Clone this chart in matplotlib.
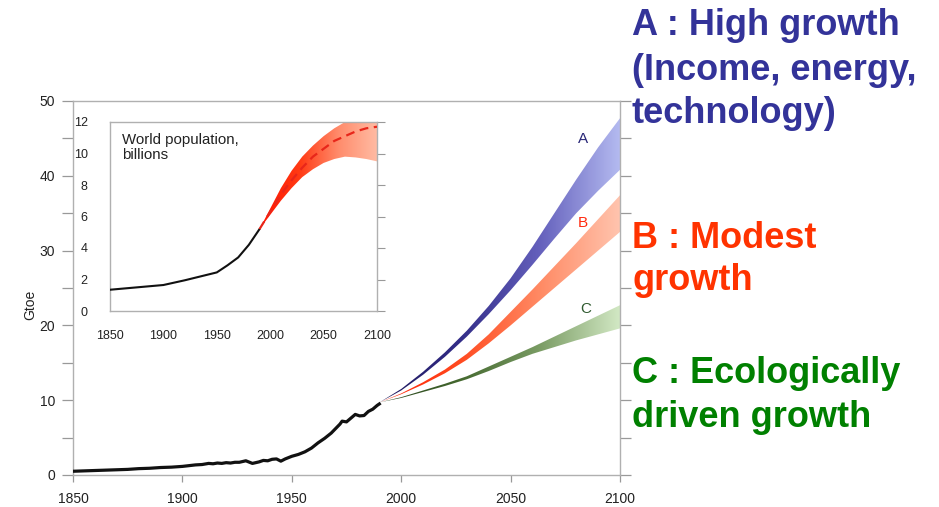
import matplotlib
matplotlib.use("Agg")
import matplotlib.pyplot as plt
import numpy as np
from matplotlib.colors import LinearSegmentedColormap
from matplotlib.patches import PathPatch
from matplotlib.ticker import MultipleLocator

plt.rcParams["font.family"] = ["Liberation Sans", "DejaVu Sans"]

# historic world primary energy use, Gtoe
hist_years = [1850, 1855, 1860, 1865, 1870, 1875, 1880, 1885, 1890, 1895,
              1900, 1903, 1906, 1909, 1912, 1914, 1916, 1918, 1920, 1922,
              1924, 1926, 1929, 1932, 1935, 1937, 1939, 1941, 1943, 1945,
              1947, 1950, 1953, 1956, 1959, 1962, 1965, 1968, 1970, 1972,
              1973, 1975, 1977, 1979, 1981, 1983, 1985, 1987, 1989, 1990]
hist_gtoe = [0.5, 0.55, 0.6, 0.65, 0.7, 0.75, 0.85, 0.9, 1.0, 1.05,
             1.15, 1.25, 1.35, 1.4, 1.55, 1.5, 1.6, 1.55, 1.65, 1.6,
             1.7, 1.7, 1.9, 1.55, 1.75, 1.95, 1.9, 2.1, 2.15, 1.85,
             2.15, 2.5, 2.75, 3.1, 3.6, 4.3, 4.9, 5.6, 6.2, 6.8,
             7.2, 7.1, 7.6, 8.1, 7.9, 7.95, 8.5, 8.8, 9.3, 9.5]

# scenario ranges, Gtoe
scen_years = [1990, 2000, 2010, 2020, 2030, 2040, 2050, 2060, 2070, 2080, 2090, 2100]
a_low = [9.7, 11.3, 13.4, 15.8, 18.5, 21.5, 24.7, 28.1, 31.6, 35.0, 38.0, 40.8]
a_high = [9.7, 11.5, 13.8, 16.4, 19.3, 22.6, 26.3, 30.5, 35.0, 39.5, 43.8, 47.7]
b_low = [9.7, 10.8, 12.1, 13.6, 15.4, 17.6, 20.0, 22.5, 25.0, 27.5, 30.0, 32.5]
b_high = [9.7, 10.9, 12.4, 14.1, 16.2, 18.8, 21.8, 24.8, 27.9, 31.0, 34.2, 37.4]
c_low = [9.7, 10.3, 11.1, 11.9, 12.8, 13.9, 15.1, 16.2, 17.1, 18.0, 18.8, 19.6]
c_high = [9.7, 10.4, 11.3, 12.2, 13.2, 14.5, 15.8, 17.1, 18.5, 19.9, 21.3, 22.7]

# world population, billions
pop_years = [1850, 1875, 1900, 1920, 1950, 1960, 1970, 1980, 1990]
pop_hist = [1.35, 1.5, 1.65, 1.95, 2.45, 2.9, 3.4, 4.2, 5.2]
pop_proj_years = [1990, 2000, 2010, 2020, 2030, 2040, 2050, 2060, 2070, 2080, 2090, 2100]
pop_mid = [5.2, 6.3, 7.4, 8.3, 9.1, 9.8, 10.3, 10.8, 11.1, 11.4, 11.6, 11.7]
pop_high = [5.2, 6.5, 7.8, 8.9, 9.8, 10.5, 11.1, 11.6, 12.0, 12.3, 12.5, 12.6]
pop_low = [5.2, 6.1, 7.0, 7.8, 8.5, 9.0, 9.4, 9.65, 9.8, 9.75, 9.65, 9.5]

BAND_COLORS = {
    "A": ["#1c1658", "#332d88", "#6460bc", "#b4baf0"],
    "B": ["#ff1e00", "#ff4a20", "#ff8a64", "#ffc4ae"],
    "C": ["#26401a", "#44682f", "#7a9c64", "#d2e8c4"],
}
POP_COLORS = ["#ff1400", "#ff3a14", "#ff8c6c", "#ffbca4"]

W, H = 939, 507


def gradient_band(ax, x, lo, hi, colors, zorder=2):
    poly = ax.fill_between(x, lo, hi, facecolor="none", edgecolor="none")
    patch = PathPatch(poly.get_paths()[0], facecolor="none", edgecolor="none",
                      transform=ax.transData)
    ax.add_patch(patch)
    cmap = LinearSegmentedColormap.from_list("band", colors)
    ramp = np.linspace(0, 1, 256).reshape(1, -1)
    im = ax.imshow(ramp, cmap=cmap, aspect="auto", origin="lower", zorder=zorder,
                   extent=[x[0], x[-1], min(lo), max(hi)], interpolation="bilinear")
    im.set_clip_path(patch)


def style_spines(ax, color="#b0b0b0"):
    for s in ax.spines.values():
        s.set_color(color)
        s.set_linewidth(1.0)


fig = plt.figure(figsize=(W / 100, H / 100), dpi=100)
fig.patch.set_facecolor("white")

# main chart
ax = fig.add_axes([73 / W, 1 - 475 / H, (620 - 73) / W, (475 - 101) / H])
style_spines(ax)
gradient_band(ax, scen_years, a_low, a_high, BAND_COLORS["A"])
gradient_band(ax, scen_years, b_low, b_high, BAND_COLORS["B"])
gradient_band(ax, scen_years, c_low, c_high, BAND_COLORS["C"])
ax.plot(hist_years, hist_gtoe, color="#111111", lw=2.3, zorder=4,
        solid_joinstyle="round")
ax.set_xlim(1850, 2100)
ax.set_ylim(0, 50)
ax.set_xticks([1850, 1900, 1950, 2000, 2050, 2100])
ax.set_yticks([0, 10, 20, 30, 40, 50])
ax.yaxis.set_minor_locator(MultipleLocator(5))
ax.tick_params(axis="y", which="both", direction="out", length=8, width=0.9,
               color="#999999", right=True, labelsize=10, labelcolor="#222222", pad=5)
ax.tick_params(axis="x", direction="out", length=5, width=0.9, color="#999999",
               labelsize=10, labelcolor="#222222", pad=7)

ax.text(2083, 44.9, "A", color="#2a2878", fontsize=11, ha="center", va="center")
ax.text(2083, 33.7, "B", color="#ff2a10", fontsize=11, ha="center", va="center")
ax.text(2084.5, 22.2, "C", color="#2f5a2f", fontsize=11, ha="center", va="center")

fig.text(30 / W, 1 - 305 / H, "Gtoe", rotation=90, ha="center", va="center",
         fontsize=10, color="#222222")

# inset: world population
ax_in = fig.add_axes([110 / W, 1 - 311 / H, (377 - 110) / W, (311 - 122) / H])
ax_in.set_facecolor("white")
style_spines(ax_in)
gradient_band(ax_in, pop_proj_years, pop_low, pop_high, POP_COLORS)
ax_in.plot(pop_years, pop_hist, color="#111111", lw=1.5, zorder=4)
ax_in.plot(pop_proj_years, pop_mid, color="#e8261a", lw=1.6, ls=(0, (4, 2.5)), zorder=4)
ax_in.set_xlim(1850, 2100)
ax_in.set_ylim(0, 12)
ax_in.set_xticks([1850, 1900, 1950, 2000, 2050, 2100])
ax_in.set_yticks([0, 2, 4, 6, 8, 10, 12])
ax_in.tick_params(axis="y", left=False, right=True, direction="out", length=6,
                  color="#999999", labelsize=9, labelcolor="#222222", pad=10)
ax_in.tick_params(axis="x", bottom=False, labelsize=9, labelcolor="#222222", pad=10)
ax_in.text(0.045, 0.94, "World population,\nbillions", transform=ax_in.transAxes,
           ha="left", va="top", fontsize=10.8, color="#222222", linespacing=1.1)

# scenario descriptions on the right
x0 = 632 / W
lines = [
    ("A : High growth", 35, "#333399"),
    ("(Income, energy,", 80, "#333399"),
    ("technology)", 123, "#333399"),
    ("B : Modest", 248, "#ff3300"),
    ("growth", 290, "#ff3300"),
    ("C : Ecologically", 383, "#008000"),
    ("driven growth", 427, "#008000"),
]
for txt, base, col in lines:
    fig.text(x0, 1 - base / H, txt, color=col, fontsize=26, fontweight="bold",
             ha="left", va="baseline")

fig.savefig("out.png", dpi=100, facecolor="white")
